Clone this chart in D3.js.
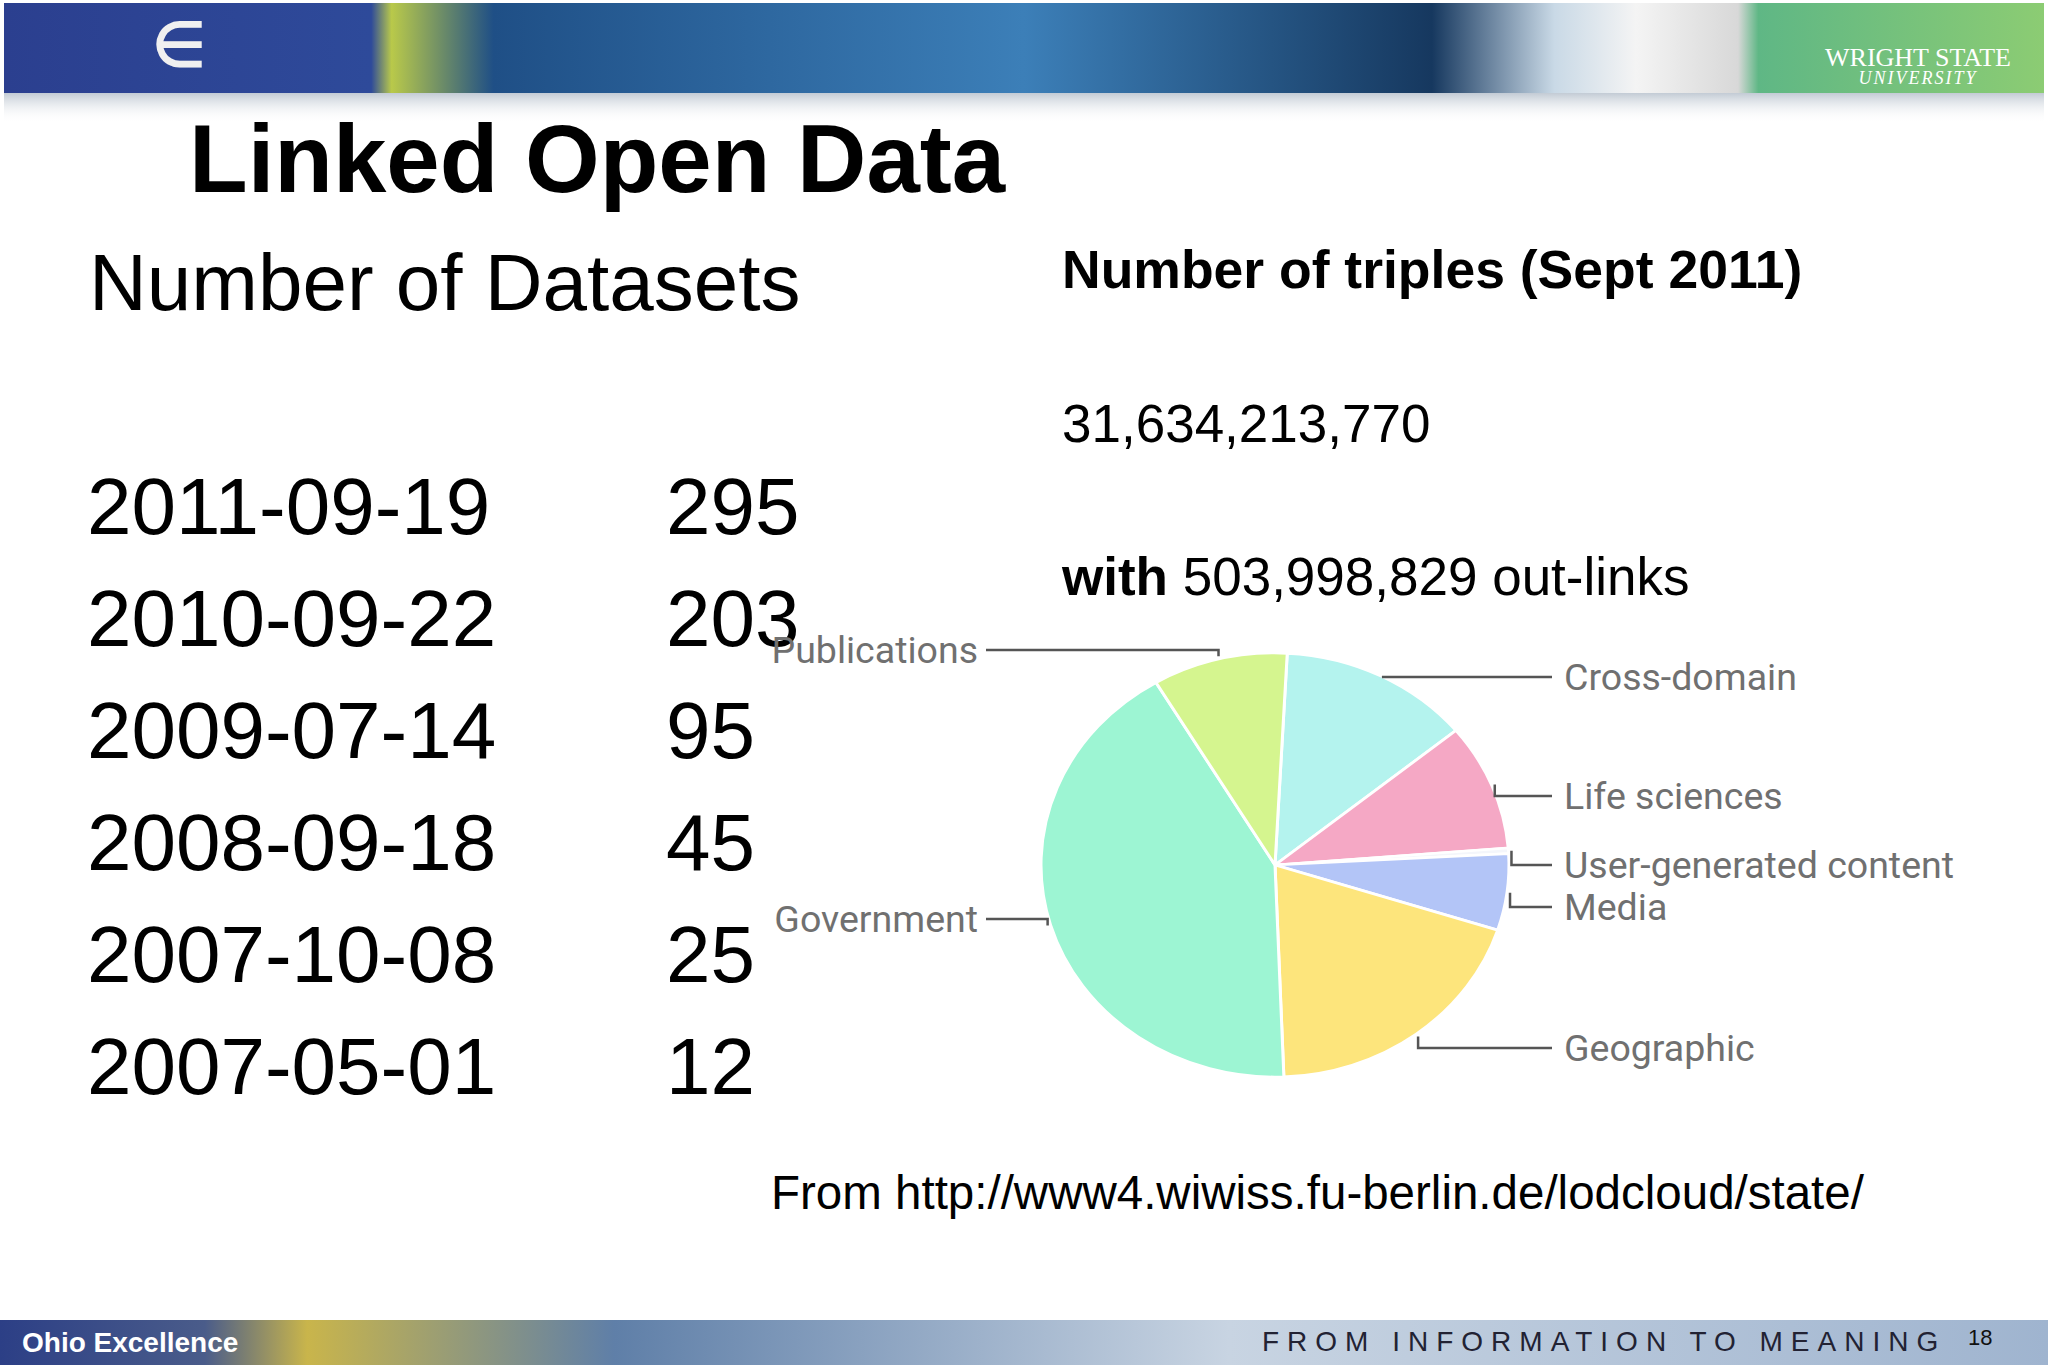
<!DOCTYPE html>
<html><head><meta charset="utf-8">
<script src="https://cdn.jsdelivr.net/npm/d3@7"></script>
<style>body{margin:0;background:#fff}svg{display:block}</style>
</head><body>
<script>
// dataset counts
const dates = ["2011-09-19","2010-09-22","2009-07-14","2008-09-18","2007-10-08","2007-05-01"];
const counts = [295, 203, 95, 45, 25, 12];

// triples per domain, Sept 2011 (clockwise from top)
const domains = ["Cross-domain","Life sciences","User-generated content","Media","Geographic","Government","Publications"];
const triples = [4184635715, 3056451838, 134127413, 1841852061, 6145532484, 13320893566, 2950720693];
const colors = ["#b4f3ee","#f5a8c5","#f4f6fb","#b3c5f7","#fde57c","#9df5d3","#d5f58f"];
const labelY = [677, 796, 865, 907, 1048, 919, 650];

const W = 2048, H = 1365;
const svg = d3.select("body").append("svg").attr("width", W).attr("height", H);
const font = "Liberation Sans, Arial, sans-serif";

// header banner
const defs = svg.append("defs");
const hg = defs.append("linearGradient").attr("id","hdr");
[["0","#2b3f8f"],["0.18","#2e4a9a"],["0.19","#b9c94a"],["0.24","#1f4f86"],["0.5","#3c7fb8"],["0.7","#16385f"],["0.76","#c9d9e6"],["0.8","#f4f4f4"],["0.85","#d8d8d8"],["0.86","#5fb785"],["1","#8ccc73"]]
  .forEach(s => hg.append("stop").attr("offset", s[0]).attr("stop-color", s[1]));
svg.append("rect").attr("x",4).attr("y",3).attr("width",W-8).attr("height",90).attr("fill","url(#hdr)");
const fade = defs.append("linearGradient").attr("id","fade").attr("x1",0).attr("y1",0).attr("x2",0).attr("y2",1);
fade.append("stop").attr("offset",0).attr("stop-color","#9aa8b8").attr("stop-opacity",0.6);
fade.append("stop").attr("offset",1).attr("stop-color","#fff").attr("stop-opacity",0);
svg.append("rect").attr("x",4).attr("y",93).attr("width",W-8).attr("height",30).attr("fill","url(#fade)");
svg.append("text").attr("x",152).attr("y",66).attr("font-family",font).attr("font-size",62)
  .attr("fill","#f0f0f0").attr("font-weight","bold").text("∈");
svg.append("text").attr("x",1918).attr("y",66).attr("text-anchor","middle").attr("font-family","Liberation Serif, serif")
  .attr("font-size",26).attr("fill","#fff").text("WRIGHT STATE");
svg.append("text").attr("x",1918).attr("y",84).attr("text-anchor","middle").attr("font-family","Liberation Serif, serif")
  .attr("font-size",18).attr("font-style","italic").attr("fill","#fff").attr("letter-spacing",2).text("UNIVERSITY");

// footer
const fg = defs.append("linearGradient").attr("id","ftr");
[["0","#2c3f86"],["0.1","#4a5c8a"],["0.15","#c9b54b"],["0.3","#5f7fa8"],["0.6","#c8d4e2"],["1","#9fb4cf"]]
  .forEach(s => fg.append("stop").attr("offset", s[0]).attr("stop-color", s[1]));
svg.append("rect").attr("x",0).attr("y",1320).attr("width",W).attr("height",45).attr("fill","url(#ftr)");
svg.append("text").attr("x",22).attr("y",1352).attr("font-family",font).attr("font-weight","bold")
  .attr("font-size",28).attr("fill","#fff").text("Ohio Excellence");
svg.append("text").attr("x",1262).attr("y",1351).attr("font-family",font).attr("font-size",28)
  .attr("letter-spacing",8).attr("fill","#223").text("FROM INFORMATION TO MEANING");
svg.append("text").attr("x",1968).attr("y",1345).attr("font-family",font).attr("font-size",22).attr("fill","#111").text("18");

// titles
svg.append("text").attr("x",189).attr("y",192).attr("font-family",font).attr("font-weight","bold")
  .attr("font-size",96).text("Linked Open Data");
svg.append("text").attr("x",89).attr("y",310).attr("font-family",font).attr("font-size",80).text("Number of Datasets");

// dataset table
const rowY = d3.scaleBand().domain(dates).range([458, 1130]);
const rows = svg.append("g").attr("font-family", font).attr("font-size", 80);
rows.selectAll(".d").data(dates).enter().append("text")
  .attr("x", 87).attr("y", d => rowY(d) + rowY.bandwidth()*0.68).text(d => d);
rows.selectAll(".n").data(counts).enter().append("text")
  .attr("x", 666).attr("y", (d,i) => rowY(dates[i]) + rowY.bandwidth()*0.68).text(d => d);

// right texts
const total = d3.sum(triples);
svg.append("text").attr("x",1062).attr("y",288).attr("font-family",font).attr("font-weight","bold")
  .attr("font-size",53.5).text("Number of triples (Sept 2011)");
svg.append("text").attr("x",1062).attr("y",442).attr("font-family",font).attr("font-size",53).text(d3.format(",")(total));
const w = svg.append("text").attr("x",1062).attr("y",595).attr("font-family",font).attr("font-size",53);
w.append("tspan").attr("font-weight","bold").text("with ");
w.append("tspan").text("503,998,829 out-links");
svg.append("text").attr("x",771).attr("y",1209).attr("font-family",font).attr("font-size",47.5)
  .text("From http://www4.wiwiss.fu-berlin.de/lodcloud/state/");

// pie (slightly squashed vertically)
const cx = 1275, cy = 865, rx = 234, ry = 212;
const start = 3 * Math.PI / 180;
const pie = d3.pie().sort(null).startAngle(start).endAngle(start + 2*Math.PI);
const arcs = pie(triples);
const arc = d3.arc().innerRadius(0).outerRadius(rx);
const pg = svg.append("g").attr("transform", `translate(${cx},${cy}) scale(1,${ry/rx})`);
pg.selectAll("path").data(arcs).enter().append("path")
  .attr("d", arc).attr("fill", (d,i) => colors[i]).attr("stroke","#fff").attr("stroke-width",3);

// leader lines and labels
const lab = svg.append("g").attr("font-family","Liberation Sans Narrow, Roboto, sans-serif").attr("font-size",37.5).attr("fill","#707070");
arcs.forEach((d,i) => {
  const a = (d.startAngle + d.endAngle) / 2;
  const px = cx + (rx + 3) * Math.sin(a), py = cy - (ry + 3) * Math.cos(a);
  const right = Math.sin(a) > 0;
  const lx = right ? 1552 : 986;
  const pts = Math.abs(py - labelY[i]) > 4 ? [[px,py],[px,labelY[i]],[lx,labelY[i]]] : [[px,labelY[i]],[lx,labelY[i]]];
  svg.append("path").attr("d", d3.line()(pts)).attr("fill","none").attr("stroke","#555").attr("stroke-width",2.5);
  lab.append("text").attr("x", right ? lx + 12 : lx - 8).attr("y", labelY[i] + 13)
    .attr("text-anchor", right ? "start" : "end").text(domains[i]);
});
</script>
</body></html>
